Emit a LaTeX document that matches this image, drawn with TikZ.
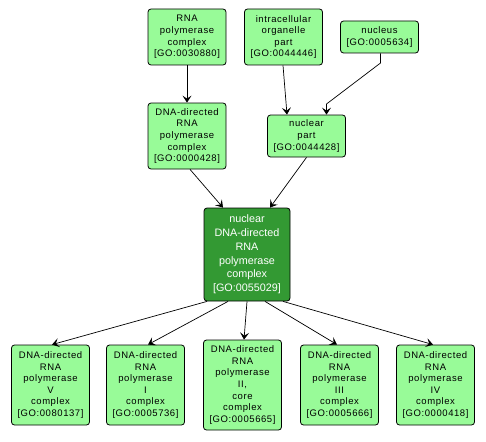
\documentclass[tikz,border=0pt]{standalone}
\usepackage{fontspec}
\setmainfont{Liberation Sans}
\newfontfamily\boxfont[LetterSpace=6]{Liberation Sans}
\usetikzlibrary{arrows.meta}
\definecolor{lgreen}{HTML}{98FB98}
\definecolor{dgreen}{HTML}{339933}
\begin{document}
\begin{tikzpicture}[x=1pt,y=-1pt,
  box/.style={draw=black, fill=lgreen, rounded corners=3pt, align=center,
    font=\boxfont\fontsize{9.5}{11.6}\selectfont, inner sep=0pt, line width=0.8pt,
    minimum width=78pt},
  mainbox/.style={box, fill=dgreen, text=white, font=\rmfamily\fontsize{10.8}{13.8}\selectfont,
    minimum width=86pt, minimum height=93pt},
  edge/.style={draw=black, line width=0.7pt, -{Stealth[length=7pt,width=9pt,inset=3pt]}}]
\useasboundingbox (0,0) rectangle (486,441);
\node[box, minimum height=56pt] (rnap) at (187,37) {RNA\\polymerase\\complex\\{[}GO:0030880{]}};
\node[box, minimum height=56pt] (iop) at (283.5,37) {intracellular\\organelle\\part\\{[}GO:0044446{]}};
\node[box, minimum height=32pt] (nuc) at (379.5,37) {nucleus\\{[}GO:0005634{]}};
\node[box, minimum height=66pt] (dnap) at (187,136) {DNA-directed\\RNA\\polymerase\\complex\\{[}GO:0000428{]}};
\node[box, minimum height=42pt] (np) at (306.5,136) {nuclear\\part\\{[}GO:0044428{]}};
\node[mainbox] (c) at (247,254.5) {nuclear\\DNA-directed\\RNA\\polymerase\\complex\\{[}GO:0055029{]}};
\node[box, minimum height=80pt] (v) at (50.5,385) {DNA-directed\\RNA\\polymerase\\V\\complex\\{[}GO:0080137{]}};
\node[box, minimum height=80pt] (i) at (145.5,385) {DNA-directed\\RNA\\polymerase\\I\\complex\\{[}GO:0005736{]}};
\node[box, minimum height=90pt] (ii) at (242.5,385) {DNA-directed\\RNA\\polymerase\\II,\\core\\complex\\{[}GO:0005665{]}};
\node[box, minimum height=80pt] (iii) at (339.5,385) {DNA-directed\\RNA\\polymerase\\III\\complex\\{[}GO:0005666{]}};
\node[box, minimum height=80pt] (iv) at (435.5,385) {DNA-directed\\RNA\\polymerase\\IV\\complex\\{[}GO:0000418{]}};
\coordinate (k1) at (380.5,63);
\coordinate (k2) at (326.5,104);
\draw[edge] (rnap.south) -- (dnap.north);
\draw[edge] ([xshift=-0.5pt]iop.south) -- ([xshift=-19.5pt]np.north);
\draw[edge] ([xshift=1pt]nuc.south) -- (k1) -- (k2) -- ([xshift=20pt]np.north);
\draw[edge] ([xshift=3pt]dnap.south) -- ([xshift=-24pt]c.north);
\draw[edge] (np.south) -- ([xshift=23pt]c.north);
\draw[edge] ([xshift=-40pt]c.south) -- ([xshift=1.5pt]v.north);
\draw[edge] ([xshift=-19pt]c.south) -- ([xshift=2.5pt]i.north);
\draw[edge] (c.south) -- ([xshift=1.5pt]ii.north);
\draw[edge] ([xshift=18pt]c.south) -- ([xshift=-2.5pt]iii.north);
\draw[edge] ([xshift=36pt]c.south) -- ([xshift=-2.5pt]iv.north);
\end{tikzpicture}
\end{document}
